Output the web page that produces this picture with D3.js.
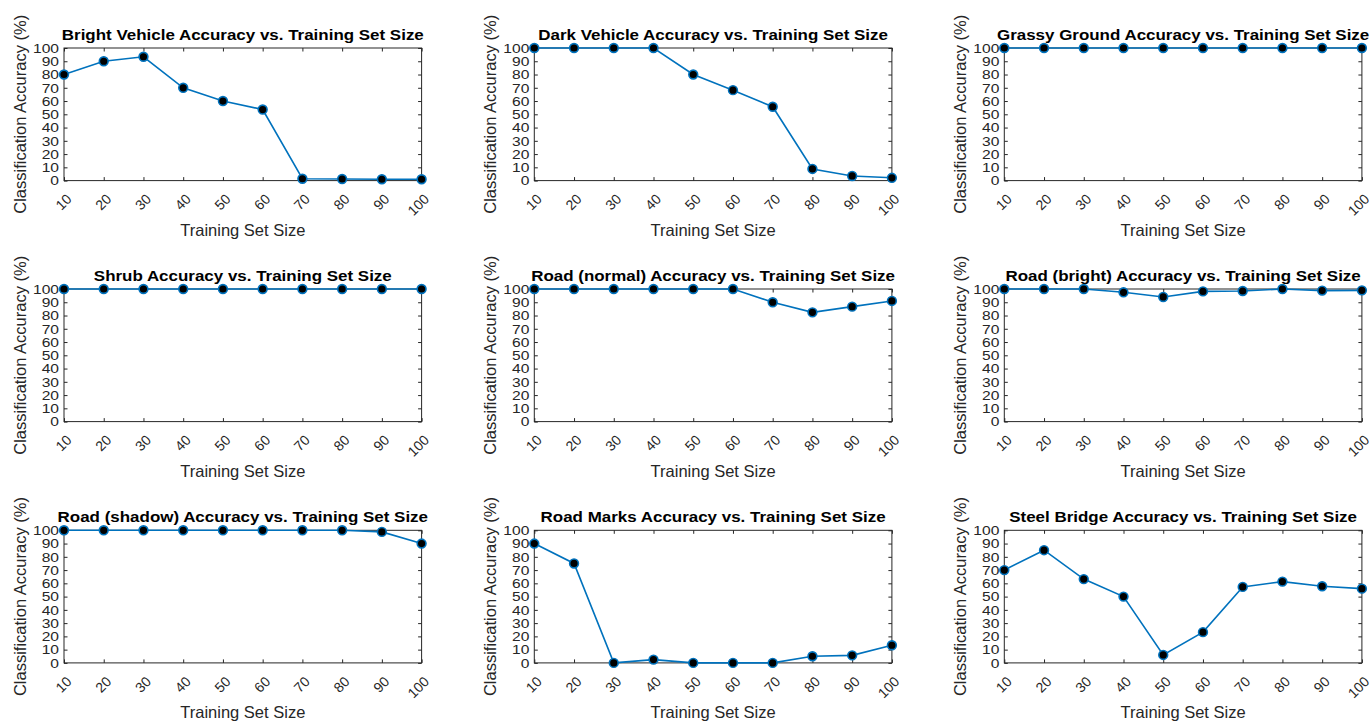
<!DOCTYPE html>
<html><head><meta charset="utf-8">
<script src="https://cdn.jsdelivr.net/npm/d3@7"></script>
<style>
body{margin:0;background:#fff}
svg{display:block}
text{font-family:"Liberation Sans",Arial,Helvetica,sans-serif}
</style>
</head><body>
<svg id="chart" width="1372" height="723"></svg>
<script>
// ---- data ----
const trainingSizes = [10, 20, 30, 40, 50, 60, 70, 80, 90, 100];
const yTickValues = [0, 10, 20, 30, 40, 50, 60, 70, 80, 90, 100];
const panelTitles = [
  "Bright Vehicle Accuracy vs. Training Set Size",
  "Dark Vehicle Accuracy vs. Training Set Size",
  "Grassy Ground Accuracy vs. Training Set Size",
  "Shrub Accuracy vs. Training Set Size",
  "Road (normal) Accuracy vs. Training Set Size",
  "Road (bright) Accuracy vs. Training Set Size",
  "Road (shadow) Accuracy vs. Training Set Size",
  "Road Marks Accuracy vs. Training Set Size",
  "Steel Bridge Accuracy vs. Training Set Size"
];
const brightVehicle = [80, 90, 93.4, 70, 60, 53.6, 1.4, 1.2, 1.0, 1.0];
const darkVehicle   = [100, 100, 100, 100, 80, 68.2, 55.7, 8.8, 3.5, 2.1];
const grassyGround  = [100, 100, 100, 100, 100, 100, 100, 100, 100, 100];
const shrub         = [100, 100, 100, 100, 100, 100, 100, 100, 100, 100];
const roadNormal    = [100, 100, 100, 100, 100, 100, 90, 82.4, 86.7, 91];
const roadBright    = [100, 100, 100, 97.5, 94, 98.2, 98.5, 100, 98.8, 99];
const roadShadow    = [100, 100, 100, 100, 100, 100, 100, 100, 98.8, 90];
const roadMarks     = [90, 75, 0, 2.5, 0, 0, 0, 5, 5.7, 13.3];
const steelBridge   = [70, 85, 63.2, 50, 6, 23.2, 57.3, 61.3, 57.8, 56];
const seriesList = [brightVehicle, darkVehicle, grassyGround, shrub, roadNormal,
                    roadBright, roadShadow, roadMarks, steelBridge];
const xLabel = "Training Set Size";
const yLabel = "Classification Accuracy (%)";

// ---- layout ----
const colLeft = [64, 534.3, 1004.3];
const rowTop = [48, 289, 530.3];
const W = 357.6, H = 132.6;
const axisColor = "#262626";
const lineColor = "#0072BD";

const svg = d3.select("#chart");

seriesList.forEach((vals, i) => {
  const col = i % 3, row = Math.floor(i / 3);
  const g = svg.append("g").attr("transform", `translate(${colLeft[col]},${rowTop[row]})`);
  const x = d3.scaleLinear().domain([10, 100]).range([0, W]);
  const y = d3.scaleLinear().domain([0, 100]).range([H, 0]);

  // bottom axis
  const gb = g.append("g").attr("transform", `translate(0,${H})`)
    .call(d3.axisBottom(x).tickValues(trainingSizes).tickSizeInner(-3.5).tickSizeOuter(0).tickFormat(d3.format("d")));
  gb.select(".domain").remove();
  gb.selectAll("line").attr("stroke", axisColor);
  gb.selectAll("text")
    .attr("y", null).attr("dy", "0.35em")
    .attr("transform", "translate(4.5,16) rotate(-45)")
    .attr("text-anchor", "end")
    .attr("fill", axisColor)
    .style("font-size", "14px");

  // left axis
  const gl = g.append("g")
    .call(d3.axisLeft(y).tickValues(yTickValues).tickSizeInner(-3.5).tickSizeOuter(0));
  gl.select(".domain").remove();
  gl.selectAll("line").attr("stroke", axisColor);
  gl.selectAll("text")
    .attr("x", null).attr("dy", "0.36em")
    .attr("transform", "translate(-5,0) scale(1.3,1)")
    .attr("text-anchor", "end")
    .attr("fill", axisColor)
    .style("font-size", "12px");

  // top & right axes (ticks only)
  const gt = g.append("g")
    .call(d3.axisTop(x).tickValues(trainingSizes).tickSizeInner(-3.5).tickSizeOuter(0).tickFormat(""));
  gt.select(".domain").remove();
  gt.selectAll("line").attr("stroke", axisColor);
  const gr = g.append("g").attr("transform", `translate(${W},0)`)
    .call(d3.axisRight(y).tickValues(yTickValues).tickSizeInner(-3.5).tickSizeOuter(0).tickFormat(""));
  gr.select(".domain").remove();
  gr.selectAll("line").attr("stroke", axisColor);

  // box
  g.append("rect").attr("x", 0).attr("y", 0).attr("width", W).attr("height", H)
    .attr("fill", "none").attr("stroke", axisColor).attr("stroke-width", 1);

  // data
  const pts = trainingSizes.map((s, k) => ({s: s, v: vals[k]}));
  g.append("path").datum(pts)
    .attr("fill", "none").attr("stroke", lineColor).attr("stroke-width", 1.6)
    .attr("d", d3.line().x(d => x(d.s)).y(d => y(d.v)));
  g.selectAll("circle.m").data(pts).enter().append("circle")
    .attr("class", "m")
    .attr("cx", d => x(d.s)).attr("cy", d => y(d.v)).attr("r", 4.4)
    .attr("fill", "#000").attr("stroke", lineColor).attr("stroke-width", 1.6);

  // title
  g.append("text")
    .attr("transform", `translate(${W / 2},-8) scale(1.13,1)`)
    .attr("text-anchor", "middle")
    .attr("fill", "#000")
    .style("font-size", "15px").style("font-weight", "bold")
    .text(panelTitles[i]);

  // axis labels
  g.append("text")
    .attr("x", W / 2).attr("y", H + 55)
    .attr("text-anchor", "middle").attr("fill", axisColor)
    .style("font-size", "16.5px")
    .text(xLabel);
  g.append("text")
    .attr("transform", `translate(-38,${H / 2}) rotate(-90)`)
    .attr("text-anchor", "middle").attr("fill", axisColor)
    .style("font-size", "16.5px")
    .text(yLabel);
});
</script>
</body></html>
